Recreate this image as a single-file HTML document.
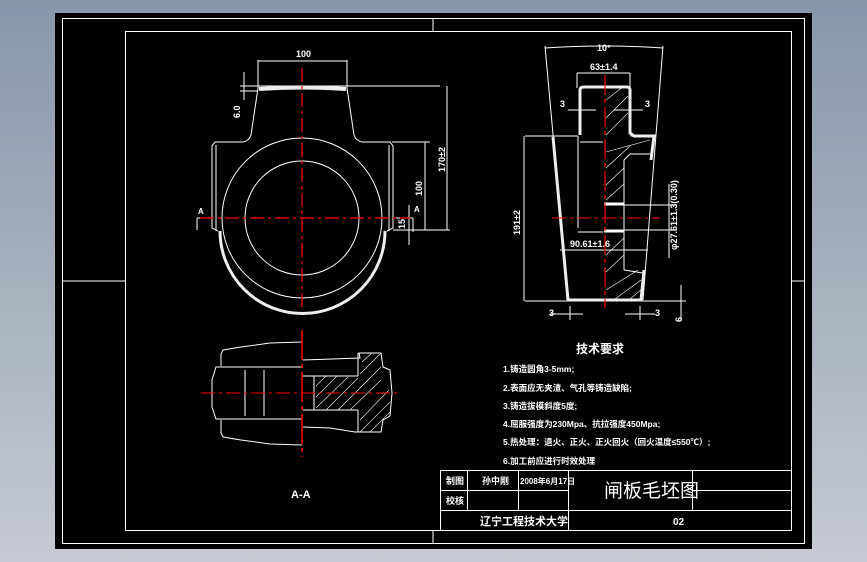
<!DOCTYPE html>
<html><head><meta charset="utf-8"><style>
html,body{margin:0;padding:0;width:867px;height:562px;overflow:hidden;background:linear-gradient(#8797ab,#c6c9d1);}
svg{position:absolute;left:0;top:0}
text{font-family:"Liberation Sans","Noto Sans CJK SC",sans-serif;fill:#fff}
</style></head><body>
<svg width="867" height="562" viewBox="0 0 867 562">
<rect x="55" y="13" width="757" height="536" fill="#000"/>
<g fill="none" stroke="#fff" stroke-width="1">
<rect x="62.5" y="18.5" width="742" height="525"/>
<rect x="125.5" y="31.5" width="666" height="499"/>
<line x1="62" y1="281" x2="125" y2="281"/><line x1="791" y1="281" x2="805" y2="281"/>
<line x1="433" y1="18" x2="433" y2="31"/><line x1="433" y1="530" x2="433" y2="544"/>
<!-- title block -->
<line x1="440" y1="470.5" x2="791" y2="470.5"/>
<line x1="440" y1="490.5" x2="568" y2="490.5"/>
<line x1="692" y1="490.5" x2="791" y2="490.5"/>
<line x1="440" y1="510.5" x2="791" y2="510.5"/>
<line x1="440.5" y1="470" x2="440.5" y2="530"/>
<line x1="467.5" y1="470" x2="467.5" y2="510"/>
<line x1="518.5" y1="470" x2="518.5" y2="510"/>
<line x1="568.5" y1="470" x2="568.5" y2="530"/>
<line x1="692.5" y1="470" x2="692.5" y2="510"/>
</g>
<g font-size="9" font-weight="bold">
<text x="446" y="484">制图</text><text x="446" y="504">校核</text>
<text x="482" y="484">孙中刚</text><text x="520" y="484" font-size="8">2008年6月17日</text>
<text x="480" y="525" font-size="11">辽宁工程技术大学</text>
<text x="673" y="525" font-size="10">02</text>
</g>
<text x="604" y="497" font-size="19">闸板毛坯图</text>
<text x="576" y="353" font-size="12" font-weight="bold">技术要求</text>
<g font-size="8.5" font-weight="bold">
<text x="503" y="372">1.铸造圆角3-5mm;</text>
<text x="503" y="391">2.表面应无夹渣、气孔等铸造缺陷;</text>
<text x="503" y="409">3.铸造拔模斜度5度;</text>
<text x="503" y="427">4.屈服强度为230Mpa、抗拉强度450Mpa;</text>
<text x="503" y="445">5.热处理：退火、正火、正火回火（回火温度≤550℃）;</text>
<text x="503" y="464">6.加工前应进行时效处理</text>
</g>

<!-- top view -->
<g fill="none" stroke="#fff" stroke-width="1">
<circle cx="302" cy="218" r="80"/>
<circle cx="302" cy="218" r="57"/>
<path d="M258,88 L251,135 Q249,141 243,142 L215,142 L212,146 L212,228 L218,231"/>
<path d="M347,88 L354,135 Q356,141 362,142 L390,142 L393,146 L393,228 L387,231"/>
<line x1="216" y1="145" x2="216" y2="231"/><line x1="389" y1="145" x2="389" y2="231"/>
<line x1="258" y1="60" x2="258" y2="88"/><line x1="347" y1="60" x2="347" y2="88"/>
<line x1="258" y1="61" x2="347" y2="61"/>
<line x1="240" y1="86" x2="440" y2="86"/><line x1="240" y1="91" x2="258" y2="91"/>
<line x1="244" y1="72" x2="244" y2="100"/>
<line x1="392" y1="142" x2="430" y2="142"/><line x1="393" y1="230" x2="450" y2="230"/>
<line x1="425" y1="142" x2="425" y2="230"/><line x1="447" y1="86" x2="447" y2="230"/>
<line x1="197" y1="218" x2="212" y2="218"/><line x1="197" y1="218" x2="197" y2="230"/>
<line x1="393" y1="218" x2="413" y2="218"/><line x1="413" y1="218" x2="413" y2="232"/>
<line x1="409" y1="205" x2="409" y2="245"/>
</g>
<path d="M220,231 A82,82 0 0 0 385,231" fill="none" stroke="#eee" stroke-width="3"/>
<path d="M259,89 Q302,86 346,89" fill="none" stroke="#eee" stroke-width="4"/>
<g stroke="#f00" stroke-width="1.2" stroke-dasharray="14,4,3,4">
<line x1="302" y1="68" x2="302" y2="310"/>
<line x1="200" y1="218" x2="410" y2="218"/>
</g>
<g font-size="9" font-weight="bold">
<text x="296" y="57">100</text>
<text x="198" y="214" font-size="8">A</text><text x="414" y="212" font-size="8">A</text>
<text transform="translate(240,118) rotate(-90)">6.0</text>
<text transform="translate(422,196) rotate(-90)">100</text>
<text transform="translate(445,172) rotate(-90)">170±2</text>
<text transform="translate(405,229) rotate(-90)">15</text>
</g>

<!-- section A-A -->
<g fill="none" stroke="#fff" stroke-width="1">
<path d="M302,342 L270,343 L241,347 L223,350 L221,354 L221,366"/>
<path d="M302,445 L270,444 L241,440 L223,437 L221,433 L221,420"/>
<path d="M302,367 L216,367 L212,380 L212,407 L216,419 L302,419"/>
<line x1="245" y1="370" x2="245" y2="416"/><line x1="264" y1="370" x2="264" y2="416"/>
<path d="M303,360 L360,358 L359,353 L381,353 L383,367 L390,370 L392,393 L390,416 L383,420 L381,432 L355,432 L330,428 L303,427"/>
<path d="M303,376 L314,376 L314,410 L303,410"/>
<line x1="314" y1="376" x2="358" y2="376"/><line x1="314" y1="410" x2="358" y2="410"/>
<path d="M358,376 L358,353"/><path d="M358,410 L358,432"/>
</g>
<g stroke="#fff" stroke-width="0.6">
<line x1="316" y1="408" x2="348" y2="377"/><line x1="326" y1="410" x2="358" y2="378"/>
<line x1="338" y1="410" x2="370" y2="378"/><line x1="350" y1="410" x2="381" y2="380"/>
<line x1="360" y1="420" x2="389" y2="390"/><line x1="360" y1="432" x2="390" y2="402"/>
<line x1="370" y1="432" x2="390" y2="412"/><line x1="360" y1="388" x2="381" y2="367"/>
<line x1="360" y1="374" x2="380" y2="354"/><line x1="362" y1="362" x2="372" y2="353"/>
<line x1="316" y1="397" x2="337" y2="376"/><line x1="316" y1="386" x2="326" y2="376"/>
</g>
<line x1="302" y1="330" x2="302" y2="457" stroke="#f00" stroke-width="1.5" stroke-dasharray="30,4,4,4"/>
<line x1="201" y1="393" x2="399" y2="393" stroke="#f00" stroke-width="1" stroke-dasharray="14,4,3,4"/>
<text x="291" y="498" font-size="11" font-weight="bold">A-A</text>

<!-- right view -->
<g fill="none" stroke="#fff" stroke-width="1">
<line x1="545" y1="46" x2="568" y2="300"/><line x1="663" y1="46" x2="643" y2="300"/>
<path d="M545,48 Q604,44 663,48"/>
<line x1="577" y1="73" x2="577" y2="88"/><line x1="630" y1="73" x2="630" y2="88"/>
<line x1="577" y1="73" x2="630" y2="73"/>
<line x1="568" y1="110" x2="596" y2="110"/><line x1="614" y1="110" x2="643" y2="110"/>
<line x1="525" y1="136" x2="578" y2="136"/><line x1="525" y1="301" x2="686" y2="301"/>
<line x1="524" y1="136" x2="524" y2="301"/>
<line x1="578" y1="136" x2="578" y2="228"/><line x1="578" y1="232" x2="603" y2="232"/>
<line x1="580" y1="142" x2="603" y2="142"/>
<line x1="624" y1="160" x2="624" y2="270"/><path d="M624,160 L630,154 L652,154"/>
<line x1="624" y1="270" x2="643" y2="273"/>
<line x1="624" y1="205" x2="677" y2="205"/><line x1="624" y1="230" x2="677" y2="230"/>
<line x1="560" y1="250" x2="648" y2="250"/>
<line x1="669" y1="184" x2="669" y2="258"/>
<line x1="681" y1="285" x2="681" y2="320"/>
<line x1="570" y1="306" x2="570" y2="320"/><line x1="640" y1="306" x2="640" y2="320"/>
<line x1="550" y1="314" x2="583" y2="314"/><line x1="625" y1="314" x2="655" y2="314"/>
</g>
<path d="M580,135 L580,90 Q580,87 584,87 L627,87 Q630,87 630,90 L630,133 L634,136 L654,136 L651,160 M553,137 L568,300 L641,300 L644,270" fill="none" stroke="#eee" stroke-width="3"/>
<g stroke="#fff" stroke-width="3"><line x1="604" y1="204" x2="624" y2="204"/><line x1="604" y1="231" x2="624" y2="231"/></g>
<g stroke="#fff" stroke-width="0.6">
<line x1="606" y1="100" x2="624" y2="86"/><line x1="606" y1="118" x2="628" y2="96"/>
<line x1="606" y1="135" x2="628" y2="113"/><line x1="606" y1="152" x2="650" y2="140"/>
<line x1="606" y1="168" x2="630" y2="146"/><line x1="606" y1="185" x2="624" y2="168"/>
<line x1="606" y1="200" x2="624" y2="184"/><line x1="606" y1="255" x2="624" y2="238"/>
<line x1="606" y1="272" x2="624" y2="255"/><line x1="606" y1="290" x2="638" y2="270"/>
<line x1="615" y1="299" x2="641" y2="280"/><line x1="630" y1="299" x2="641" y2="290"/>
<line x1="630" y1="136" x2="643" y2="136"/>
</g>
<line x1="605" y1="75" x2="605" y2="308" stroke="#f00" stroke-width="1.2" stroke-dasharray="20,4,4,4"/>
<line x1="552" y1="218" x2="660" y2="218" stroke="#f00" stroke-width="1" stroke-dasharray="14,4,3,4"/>
<g font-size="9" font-weight="bold">
<text x="597" y="51">10°</text>
<text x="590" y="70">63±1.4</text>
<text x="560" y="107">3</text><text x="645" y="107">3</text>
<text x="570" y="247">90.61±1.6</text>
<text x="549" y="316">3</text><text x="655" y="316">3</text>
<text transform="translate(520,235) rotate(-90)">191±2</text>
<text transform="translate(677,250) rotate(-90)">φ27.61±1.3(0.30)</text>
<text transform="translate(682,322) rotate(-90)">6</text>
</g>
</svg>
</body></html>
